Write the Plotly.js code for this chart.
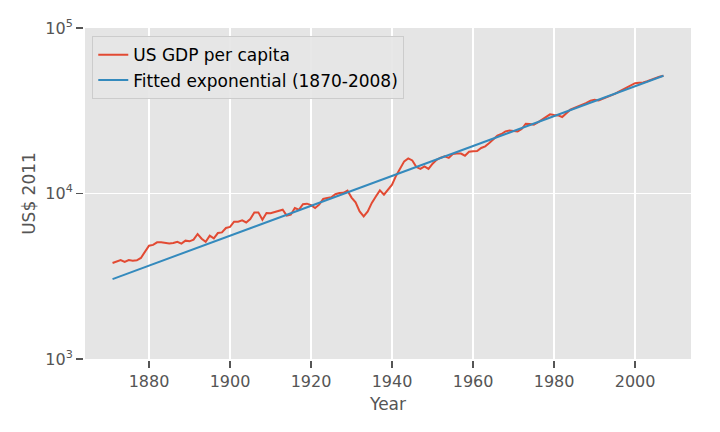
<!DOCTYPE html>
<html>
<head>
<meta charset="utf-8">
<script src="https://cdn.plot.ly/plotly-3.0.1.min.js"></script>
<style>html,body{margin:0;padding:0;background:#fff;}#chart{width:720px;height:432px;}</style>
</head>
<body>
<div id="chart"></div>
<script>
// US GDP per capita (US$ 2011), annual 1871-2007
const startYear = 1871;
const gdpPerCapita = [
  3800, 3890, 3960, 3860, 3960, 3930, 3950, 4080, 4470,            // 1871-1879
  4840, 4890, 5070, 5070, 5020, 4980, 5020, 5110, 4980, 5190,      // 1880-1889
  5140, 5260, 5690, 5330, 5100, 5560, 5360, 5770, 5820, 6190,      // 1890-1899
  6280, 6760, 6760, 6880, 6680, 7010, 7690, 7690, 6950, 7620,      // 1900-1909
  7590, 7730, 7910, 7980, 7350, 7450, 8170, 7980, 8620, 8680,      // 1910-1919
  8500, 8170, 8560, 9270, 9380, 9500, 9900, 10070, 10100, 10400,   // 1920-1929
  9450, 8840, 7800, 7280, 7800, 8770, 9600, 10450, 9840, 10540,    // 1930-1939
  11300, 12820, 14070, 15640, 16300, 15850, 14450, 14070, 14580, 14070, // 1940-1949
  15140, 15990, 16450, 16760, 16400, 17340, 17420, 17420, 16920, 17890, // 1950-1959
  17970, 18060, 18840, 19270, 20200, 21150, 22350, 22890, 23730, 24050, // 1960-1969
  23940, 23720, 24530, 26400, 26300, 26060, 26900, 27930, 28980, 30070, // 1970-1979
  29800, 29640, 28980, 30630, 32080, 32860, 33610, 34420, 35250, 36400, // 1980-1989
  36900, 36500, 37300, 38000, 39000, 40000, 41200, 42400, 43900, 45400, // 1990-1999
  46400, 46700, 46900, 47700, 48800, 49900, 50800, 51500               // 2000-2007
];
// Fitted exponential: end points
const fitYears = [1871, 2007];
const fitValues = [3040, 51500];

const yTickVals = [1000, 10000, 100000];
const yTickText = ['10<sup>3</sup>', '10<sup>4</sup>', '10<sup>5</sup>'];
const xTickVals = [1880, 1900, 1920, 1940, 1960, 1980, 2000];

const years = gdpPerCapita.map((_, i) => startYear + i);

const traces = [
  {x: years, y: gdpPerCapita, type: 'scatter', mode: 'lines', name: 'US GDP per capita',
   line: {color: '#E24A33', width: 2}},
  {x: fitYears, y: fitValues, type: 'scatter', mode: 'lines', name: 'Fitted exponential (1870-2008)',
   line: {color: '#348ABD', width: 2}}
];

const tickFont = {family: 'DejaVu Sans', size: 16, color: '#555555'};
const layout = {
  width: 720, height: 432,
  margin: {l: 85, r: 29, t: 28, b: 73, pad: 0},
  paper_bgcolor: '#ffffff', plot_bgcolor: '#E5E5E5',
  font: {family: 'DejaVu Sans', color: '#555555'},
  showlegend: true,
  legend: {x: 0.012, y: 0.975, xanchor: 'left', yanchor: 'top',
           bgcolor: 'rgba(229,229,229,0.9)', bordercolor: '#CCCCCC', borderwidth: 1,
           font: {family: 'DejaVu Sans', size: 17, color: '#000000'}},
  xaxis: {range: [1864.2, 2013.8], tickvals: xTickVals, ticks: 'outside', ticklen: 7, tickwidth: 1.3,
          tickcolor: '#555555', showline: true, linecolor: '#ffffff', linewidth: 2,
          showgrid: true, gridcolor: '#ffffff', gridwidth: 1.5, zeroline: false,
          tickfont: tickFont,
          title: {text: 'Year', font: {family: 'DejaVu Sans', size: 17, color: '#555555'}, standoff: 8}},
  yaxis: {type: 'log', range: [3, 5], tickvals: yTickVals, ticktext: yTickText,
          ticks: 'outside', ticklen: 7, tickwidth: 1.3, tickcolor: '#555555',
          showline: true, linecolor: '#ffffff', linewidth: 2,
          showgrid: true, gridcolor: '#ffffff', gridwidth: 1.5, zeroline: false,
          tickfont: tickFont,
          title: {text: 'US$ 2011', font: {family: 'DejaVu Sans', size: 17, color: '#555555'}, standoff: 5}}
};

Plotly.newPlot('chart', traces, layout, {displayModeBar: false, staticPlot: true});
</script>
</body>
</html>
